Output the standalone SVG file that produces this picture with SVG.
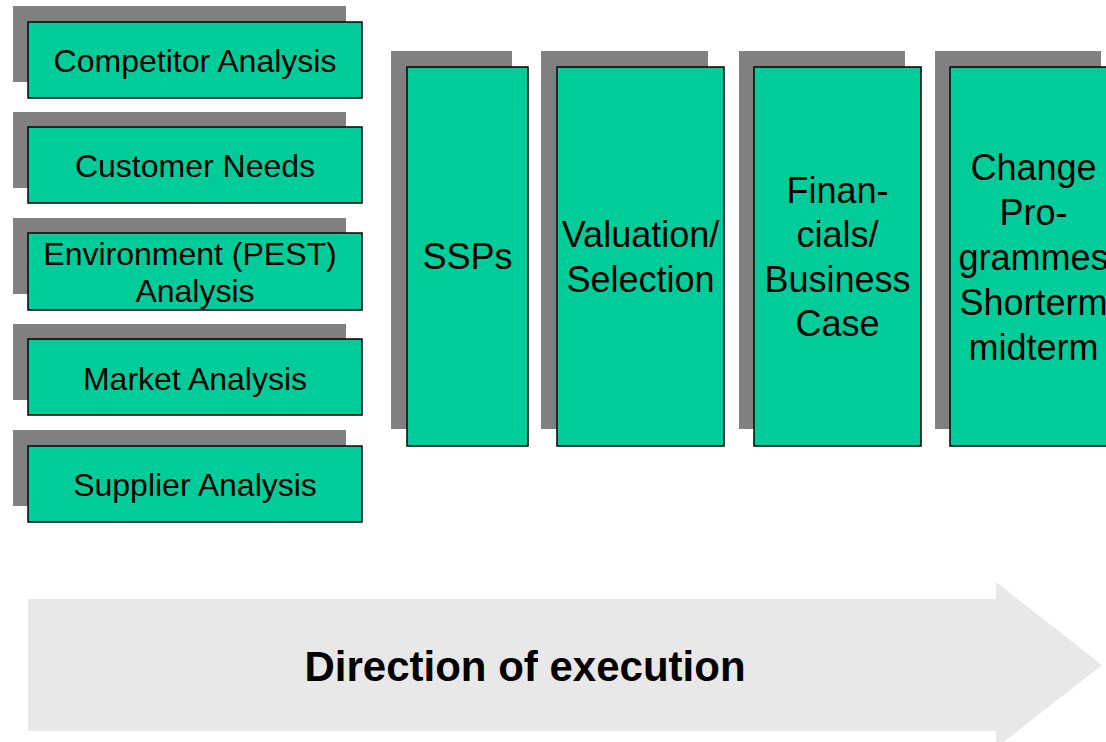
<svg xmlns="http://www.w3.org/2000/svg" width="1106" height="742" viewBox="0 0 1106 742">
  <style>
    .shadow { fill: #808080; }
    .box { fill: #00CC99; stroke: #000; stroke-width: 1.5; }
    .lbl { font-family: "Liberation Sans", Arial, sans-serif; fill: #000; text-anchor: middle; }
    .small { font-size: 32px; }
    .big { font-size: 36px; }
    .dir { font-size: 42px; font-weight: bold; }
  </style>
  <rect width="1106" height="742" fill="#fff"/>

  <!-- direction arrow in the background -->
  <g id="direction-arrow">
    <polygon points="28,599 996,599 996,582 1102,665 996,748 996,731 28,731" fill="#E8E8E8"/>
    <text class="lbl dir" x="525" y="681">Direction of execution</text>
  </g>

  <!-- analysis inputs -->
  <g id="competitor-analysis">
    <rect class="shadow" x="13" y="6" width="333" height="76"/>
    <rect class="box" x="28" y="22" width="334" height="76"/>
    <text class="lbl small" x="195" y="72">Competitor Analysis</text>
  </g>
  <g id="customer-needs">
    <rect class="shadow" x="13" y="112" width="333" height="76"/>
    <rect class="box" x="28" y="127" width="334" height="76"/>
    <text class="lbl small" x="195" y="177">Customer Needs</text>
  </g>
  <g id="environment-analysis">
    <rect class="shadow" x="13" y="218" width="333" height="76"/>
    <rect class="box" x="28" y="233" width="334" height="77"/>
    <text class="lbl small" x="190" y="265">Environment (PEST)</text>
    <text class="lbl small" x="195" y="302">Analysis</text>
  </g>
  <g id="market-analysis">
    <rect class="shadow" x="13" y="324" width="333" height="76"/>
    <rect class="box" x="28" y="339" width="334" height="76"/>
    <text class="lbl small" x="195" y="390">Market Analysis</text>
  </g>
  <g id="supplier-analysis">
    <rect class="shadow" x="13" y="430" width="333" height="76"/>
    <rect class="box" x="28" y="446" width="334" height="76"/>
    <text class="lbl small" x="195" y="496">Supplier Analysis</text>
  </g>

  <!-- process stages -->
  <g id="ssps">
    <rect class="shadow" x="391" y="51" width="121" height="378"/>
    <rect class="box" x="407" y="67" width="121" height="379"/>
    <text class="lbl big" x="467.5" y="269">SSPs</text>
  </g>
  <g id="valuation-selection">
    <rect class="shadow" x="541" y="51" width="167" height="378"/>
    <rect class="box" x="557" y="67" width="167" height="379"/>
    <text class="lbl big" x="640.5" y="247">Valuation/</text>
    <text class="lbl big" x="640.5" y="292">Selection</text>
  </g>
  <g id="financials-business-case">
    <rect class="shadow" x="739" y="51" width="166" height="378"/>
    <rect class="box" x="754" y="67" width="167" height="379"/>
    <text class="lbl big" x="837.5" y="203">Finan-</text>
    <text class="lbl big" x="837.5" y="247">cials/</text>
    <text class="lbl big" x="837.5" y="292">Business</text>
    <text class="lbl big" x="837.5" y="336">Case</text>
  </g>
  <g id="change-programmes">
    <rect class="shadow" x="935" y="51" width="166" height="378"/>
    <rect class="box" x="950" y="67" width="167" height="379"/>
    <text class="lbl big" x="1033.5" y="180">Change</text>
    <text class="lbl big" x="1033.5" y="225">Pro-</text>
    <text class="lbl big" x="1033.5" y="270">grammes</text>
    <text class="lbl big" x="1033.5" y="315">Shorterm</text>
    <text class="lbl big" x="1033.5" y="360">midterm</text>
  </g>

  <g id="connectors"></g>
</svg>
